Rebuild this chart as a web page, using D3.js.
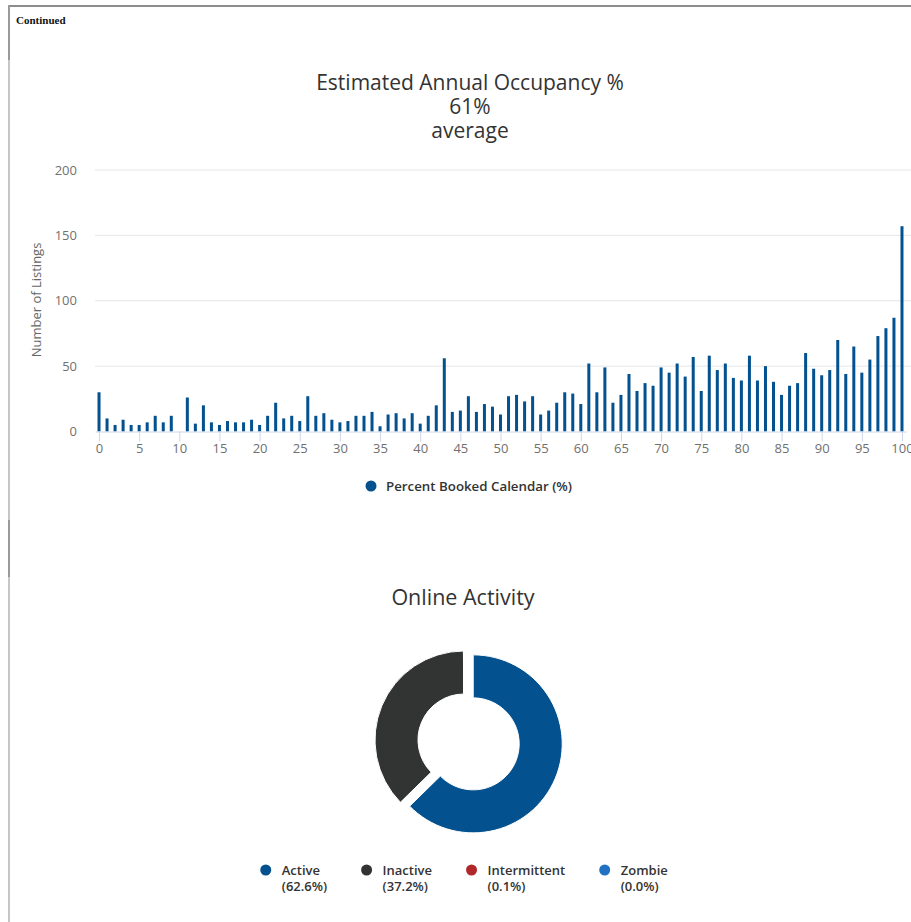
<!DOCTYPE html>
<html>
<head>
<meta charset="utf-8">
<script src="https://cdn.jsdelivr.net/npm/d3@7"></script>
<style>
  body { margin: 0; background: #fff; }
  svg { display: block; font-family: "Open Sans", sans-serif; }
</style>
</head>
<body>
<svg id="page" width="911" height="922"></svg>
<script>
// percent booked categories 0..100
const occupancy = d3.range(0, 101);
const listings = [
    30, 10, 5, 9, 5, 5, 7, 12, 7, 12,
    0, 26, 6, 20, 7, 5, 8, 7, 7, 9,
    5, 12, 22, 10, 12, 8, 27, 12, 14, 9,
    7, 8, 12, 12, 15, 4, 13, 14, 10, 14,
    6, 12, 20, 56, 15, 16, 27, 15, 21, 19,
    13, 27, 28, 23, 27, 13, 16, 22, 30, 29,
    21, 52, 30, 49, 22, 28, 44, 31, 37, 35,
    49, 45, 52, 42, 57, 31, 58, 47, 52, 41,
    39, 58, 39, 50, 38, 28, 35, 37, 60, 48,
    43, 47, 70, 44, 65, 45, 55, 73, 79, 87,
    157
];
const xTicks = [0, 5, 10, 15, 20, 25, 30, 35, 40, 45, 50, 55, 60, 65, 70, 75, 80, 85, 90, 95, 100];
const yTicks = [0, 50, 100, 150, 200];
const titleLines = ["Estimated Annual Occupancy %", "61%", "average"];
const seriesName = "Percent Booked Calendar (%)";

const activity = ["Active", "Inactive", "Intermittent", "Zombie"];
const activityShare = [62.6, 37.2, 0.1, 0.0];
const activityColors = ["#03518f", "#323433", "#b0282a", "#2272c3"];

const svg = d3.select("#page");

// page frame
svg.append("line")
    .attr("x1", 8).attr("x2", 911).attr("y1", 6).attr("y2", 6)
    .attr("stroke", "#8c8c8c").attr("stroke-width", 2);
svg.append("line")
    .attr("x1", 9).attr("x2", 9).attr("y1", 5).attr("y2", 922)
    .attr("stroke", "#c6c6c6").attr("stroke-width", 2);
[[5, 60], [520, 577]].forEach((s) => {
    svg.append("line")
        .attr("x1", 9).attr("x2", 9).attr("y1", s[0]).attr("y2", s[1])
        .attr("stroke", "#9a9a9a").attr("stroke-width", 2);
});

svg.append("text")
    .attr("x", 16).attr("y", 24)
    .attr("font-family", '"Liberation Serif", "DejaVu Serif", serif')
    .attr("font-weight", "bold")
    .attr("font-size", 11)
    .attr("fill", "#111")
    .text("Continued");

// ---- chart 1: occupancy histogram ----
svg.append("g")
    .selectAll("text")
    .data(titleLines)
    .enter()
    .append("text")
    .attr("x", 470)
    .attr("y", (d, i) => 90 + i * 24)
    .attr("text-anchor", "middle")
    .attr("font-size", 21)
    .attr("fill", "#333")
    .text((d) => d);

const x = d3.scaleLinear().domain([-0.5, 100.5]).range([95, 906]);
const y = d3.scaleLinear().domain([0, 200]).range([431.5, 170]);

svg.append("g")
    .selectAll("line")
    .data(yTicks.filter((d) => d > 0))
    .enter()
    .append("line")
    .attr("x1", 95).attr("x2", 911)
    .attr("y1", (d) => y(d)).attr("y2", (d) => y(d))
    .attr("stroke", "#e6e6e6");

const yAxis = svg.append("g")
    .attr("transform", "translate(95,0)")
    .call(d3.axisLeft(y).tickValues(yTicks).tickSize(0).tickPadding(18));
yAxis.select(".domain").remove();
yAxis.selectAll("text")
    .attr("font-family", '"Open Sans", sans-serif')
    .attr("font-size", 13)
    .attr("fill", "#707070");

svg.append("text")
    .attr("transform", "translate(41,300) rotate(-90)")
    .attr("text-anchor", "middle")
    .attr("font-size", 13)
    .attr("fill", "#666")
    .text("Number of Listings");

svg.append("g")
    .selectAll("rect")
    .data(occupancy)
    .enter()
    .append("rect")
    .attr("x", (d) => x(d) - 1.5)
    .attr("width", 3)
    .attr("y", (d, i) => y(listings[i]))
    .attr("height", (d, i) => y(0) - y(listings[i]))
    .attr("fill", "#03518f");

const xAxis = svg.append("g")
    .attr("transform", "translate(0," + y(0) + ")")
    .call(d3.axisBottom(x).tickValues(xTicks).tickSize(10).tickSizeOuter(0).tickPadding(2));
xAxis.select(".domain").attr("stroke", "#ccd6eb");
xAxis.selectAll(".tick line").attr("stroke", "#ccd6eb");
xAxis.selectAll("text")
    .attr("font-family", '"Open Sans", sans-serif')
    .attr("font-size", 13)
    .attr("fill", "#707070");

const legend1 = svg.append("g").attr("transform", "translate(0,486)");
legend1.append("circle").attr("cx", 371).attr("cy", 0).attr("r", 5.5).attr("fill", "#03518f");
legend1.append("text")
    .attr("x", 386).attr("y", 4.5)
    .attr("font-size", 13.3).attr("font-weight", 600).attr("fill", "#333")
    .text(seriesName);

// ---- chart 2: online activity donut ----
svg.append("text")
    .attr("x", 463).attr("y", 605)
    .attr("text-anchor", "middle")
    .attr("font-size", 21.5)
    .attr("fill", "#333")
    .text("Online Activity");

const pie = d3.pie().sort(null).value((d) => d);
const arc = d3.arc().innerRadius(46).outerRadius(89);
const slices = pie(activityShare);

svg.append("g")
    .attr("transform", "translate(464,740)")
    .selectAll("path")
    .data(slices)
    .enter()
    .append("path")
    .attr("d", arc)
    .attr("transform", (d, i) => {
        if (i !== 0) return null;
        const a = (d.startAngle + d.endAngle) / 2;
        return "translate(" + 10 * Math.sin(a) + "," + -10 * Math.cos(a) + ")";
    })
    .attr("fill", (d, i) => activityColors[i])
    .attr("stroke", "#fff")
    .attr("stroke-width", 1);

// legend, laid out from text widths and centred under the donut
const legend2 = svg.append("g").attr("transform", "translate(0,870)");
const items = legend2.selectAll("g")
    .data(activity)
    .enter()
    .append("g");
items.append("circle")
    .attr("r", 5.5)
    .attr("fill", (d, i) => activityColors[i]);
const labels = items.append("text")
    .attr("x", 16)
    .attr("font-size", 13)
    .attr("font-weight", 600)
    .attr("fill", "#333");
labels.append("tspan").attr("x", 16).attr("y", 5).text((d) => d);
labels.append("tspan").attr("x", 16).attr("y", 21)
    .text((d, i) => "(" + activityShare[i].toFixed(1) + "%)");

const widths = [];
labels.each(function () {
    widths.push(this.getBBox().width);
});
const gap = 34;
let total = 0;
widths.forEach((w, i) => {
    total += 5.5 + 16 + w + (i < widths.length - 1 ? gap : 0);
});
let cursor = 464 - total / 2 + 5.5;
items.attr("transform", (d, i) => {
    const pos = cursor;
    cursor += 16 + widths[i] + gap + 5.5;
    return "translate(" + pos + ",0)";
});
</script>
</body>
</html>
